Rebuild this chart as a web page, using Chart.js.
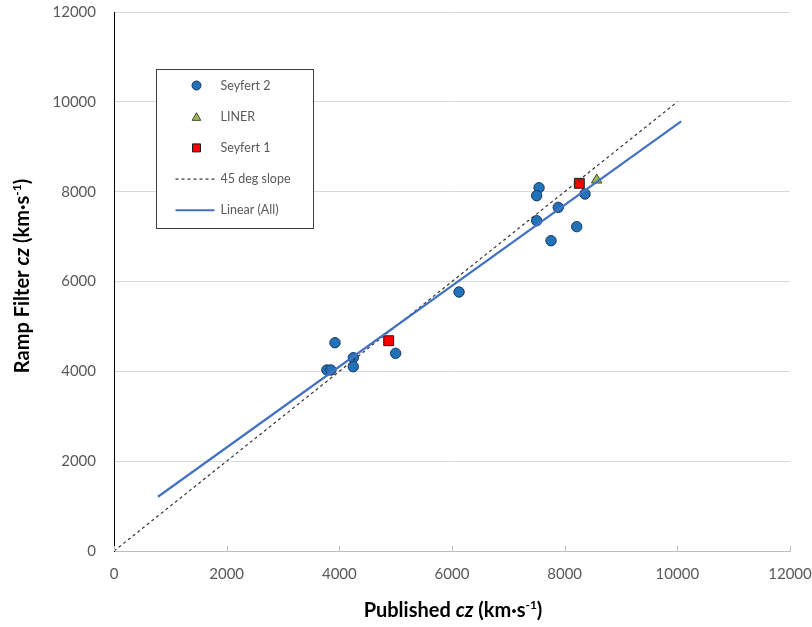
<!DOCTYPE html>
<html>
<head>
<meta charset="utf-8">
<script src="https://cdn.jsdelivr.net/npm/chart.js@4/dist/chart.umd.min.js"></script>
<style>
  html, body { margin: 0; padding: 0; background: #ffffff; }
  #wrap { width: 812px; height: 627px; }
</style>
</head>
<body>
<div id="wrap"><canvas id="c" width="812" height="627"></canvas></div>
<script>
// Published vs. ramp-filter recession velocities (km/s)
const publishedSy2 = [3780, 3850, 3923, 4248, 4248, 5000, 6125, 7545, 7503, 7886, 7503, 8214, 7758, 8361];
const rampSy2      = [4030, 4030, 4637, 4303, 4103, 4401, 5766, 8088, 7910, 7651, 7354, 7221, 6908, 7948];

const publishedLiner = [8568];
const rampLiner      = [8259];

const publishedSy1 = [4876, 8260];
const rampSy1      = [4682, 8186];

// reference line y = x
const slopeX = [0, 10000];

// trendline forecast extents (backward / forward, km/s)
const trendBackward = 3000;
const trendForward = 1500;

const axisTicks = [0, 2000, 4000, 6000, 8000, 10000, 12000];

const seriesNames = ['Seyfert 2', 'LINER', 'Seyfert 1', '45 deg slope', 'Linear (All)'];

const toPoints = (xs, ys) => xs.map((x, i) => ({ x: x, y: ys[i] }));

// least-squares fit over every object
const allX = publishedSy2.concat(publishedLiner, publishedSy1);
const allY = rampSy2.concat(rampLiner, rampSy1);
const n = allX.length;
const mx = allX.reduce((a, b) => a + b, 0) / n;
const my = allY.reduce((a, b) => a + b, 0) / n;
let sxy = 0, sxx = 0;
for (let i = 0; i < n; i++) { sxy += (allX[i] - mx) * (allY[i] - my); sxx += (allX[i] - mx) ** 2; }
const slope = sxy / sxx;
const intercept = my - slope * mx;
const trendX = [Math.min(...allX) - trendBackward, Math.max(...allX) + trendForward];
const trendY = trendX.map(x => intercept + slope * x);

const COL = {
  sy2: '#2272B9', sy2Border: '#17375E',
  liner: '#9BBB59', linerBorder: '#3B4A22',
  sy1: '#FF0000', sy1Border: '#1a1a1a',
  dash: '#333333', trend: '#4472C4',
  text: '#595959'
};

const TICK_FONT = { family: 'Lato', size: 15 };

function drawMarker(ctx, style, x, y, r, fill, stroke) {
  ctx.save();
  ctx.fillStyle = fill; ctx.strokeStyle = stroke; ctx.lineWidth = 1;
  ctx.beginPath();
  if (style === 'circle') {
    ctx.arc(x, y, r, 0, Math.PI * 2);
  } else if (style === 'rect') {
    ctx.rect(x - r, y - r, 2 * r, 2 * r);
  } else if (style === 'triangle') {
    ctx.moveTo(x, y - r);
    ctx.lineTo(x + r * 0.95, y + r * 0.7);
    ctx.lineTo(x - r * 0.95, y + r * 0.7);
    ctx.closePath();
  }
  ctx.fill(); ctx.stroke();
  ctx.restore();
}

// rich-text title: bold run, italic "cz", superscript -1
function titleParts(prefix) {
  return [
    { t: prefix, f: 'bold 20px Lato' },
    { t: 'cz', f: 'italic bold 20px Lato' },
    { t: ' (km\u00B7s', f: 'bold 20px Lato' },
    { t: '-1', f: 'bold 12px Lato', sup: true },
    { t: ')', f: 'bold 20px Lato' }
  ];
}
function drawRich(ctx, parts, cx, cy) {
  let w = 0;
  parts.forEach(p => { ctx.font = p.f; p.w = ctx.measureText(p.t).width; w += p.w; });
  let x = cx - w / 2;
  ctx.fillStyle = '#000000';
  ctx.textBaseline = 'middle';
  ctx.textAlign = 'left';
  parts.forEach(p => {
    ctx.font = p.f;
    ctx.fillText(p.t, x, p.sup ? cy - 6 : cy);
    x += p.w;
  });
}

const decorations = {
  id: 'decorations',
  afterDraw(chart) {
    const ctx = chart.ctx;
    const area = chart.chartArea;
    const xs = chart.scales.x;

    // x-axis tick marks
    ctx.save();
    ctx.strokeStyle = '#bfbfbf'; ctx.lineWidth = 1;
    axisTicks.forEach(v => {
      const px = Math.round(xs.getPixelForValue(v)) + 0.5;
      ctx.beginPath(); ctx.moveTo(px, area.bottom); ctx.lineTo(px, area.bottom - 5); ctx.stroke();
    });
    ctx.restore();

    // axis titles
    ctx.save();
    drawRich(ctx, titleParts('Published '), (area.left + area.right) / 2 + 1, 611);
    ctx.translate(23, 276);
    ctx.rotate(-Math.PI / 2);
    drawRich(ctx, titleParts('Ramp Filter '), 0, 0);
    ctx.restore();

    // legend box
    const bx = area.left + 42.5, by = area.top + 57.5, bw = 157, bh = 159;
    ctx.save();
    ctx.fillStyle = '#ffffff';
    ctx.fillRect(bx, by, bw, bh);
    ctx.strokeStyle = '#404040'; ctx.lineWidth = 1;
    ctx.strokeRect(bx, by, bw, bh);
    const rowY = i => by + 16 + i * 31.2;
    const mkX = bx + 40;
    drawMarker(ctx, 'circle', mkX, rowY(0), 4.5, COL.sy2, COL.sy2Border);
    drawMarker(ctx, 'triangle', mkX, rowY(1) + 0.5, 4.5, COL.liner, COL.linerBorder);
    drawMarker(ctx, 'rect', mkX, rowY(2), 4, COL.sy1, COL.sy1Border);
    ctx.strokeStyle = COL.dash; ctx.lineWidth = 1.2; ctx.setLineDash([3, 3]);
    ctx.beginPath(); ctx.moveTo(bx + 19, rowY(3)); ctx.lineTo(bx + 58, rowY(3)); ctx.stroke();
    ctx.setLineDash([]);
    ctx.strokeStyle = COL.trend; ctx.lineWidth = 2;
    ctx.beginPath(); ctx.moveTo(bx + 19, rowY(4)); ctx.lineTo(bx + 58, rowY(4)); ctx.stroke();
    ctx.fillStyle = COL.text; ctx.font = '12.5px Lato';
    ctx.textAlign = 'left'; ctx.textBaseline = 'middle';
    seriesNames.forEach((s, i) => ctx.fillText(s, bx + 64, rowY(i)));
    ctx.restore();
  }
};

new Chart(document.getElementById('c'), {
  type: 'scatter',
  data: {
    datasets: [
      {
        label: seriesNames[0], data: toPoints(publishedSy2, rampSy2), order: 4,
        pointStyle: 'circle', pointRadius: 5.2, borderWidth: 1,
        backgroundColor: COL.sy2, borderColor: COL.sy2Border
      },
      {
        label: seriesNames[1], data: toPoints(publishedLiner, rampLiner), order: 3,
        pointStyle: 'triangle', pointRadius: 6, borderWidth: 1,
        backgroundColor: COL.liner, borderColor: COL.linerBorder
      },
      {
        label: seriesNames[2], data: toPoints(publishedSy1, rampSy1), order: 2,
        pointStyle: 'rect', pointRadius: 7, borderWidth: 1,
        backgroundColor: COL.sy1, borderColor: COL.sy1Border
      },
      {
        label: seriesNames[3], data: toPoints(slopeX, slopeX), order: 1,
        showLine: true, pointRadius: 0, borderColor: COL.dash, borderWidth: 1.2,
        borderDash: [3, 3]
      },
      {
        label: seriesNames[4], data: toPoints(trendX, trendY), order: 0,
        showLine: true, pointRadius: 0, borderColor: COL.trend, borderWidth: 2.25
      }
    ]
  },
  options: {
    responsive: false,
    animation: false,
    devicePixelRatio: 1,
    layout: { padding: { top: 12, right: 22, left: 0, bottom: 0 } },
    plugins: { legend: { display: false }, tooltip: { enabled: false } },
    scales: {
      x: {
        type: 'linear', min: 0, max: 12000,
        afterFit: s => { s.height = 76; },
        afterBuildTicks: s => { s.ticks = axisTicks.map(v => ({ value: v })); },
        ticks: { color: COL.text, font: TICK_FONT, padding: 0, maxRotation: 0,
                 callback: v => String(v) },
        grid: { drawOnChartArea: false, drawTicks: true, tickLength: 14, tickColor: 'rgba(0,0,0,0)' },
        border: { color: '#bfbfbf', width: 1 }
      },
      y: {
        type: 'linear', min: 0, max: 12000,
        afterFit: s => { s.width = 114; },
        afterBuildTicks: s => { s.ticks = axisTicks.map(v => ({ value: v })); },
        ticks: { color: COL.text, font: TICK_FONT, padding: 0, callback: v => String(v) },
        grid: { color: '#d9d9d9', drawTicks: true, tickLength: 18, tickColor: 'rgba(0,0,0,0)' },
        border: { color: '#000000', width: 1 }
      }
    }
  },
  plugins: [decorations]
});
</script>
</body>
</html>
